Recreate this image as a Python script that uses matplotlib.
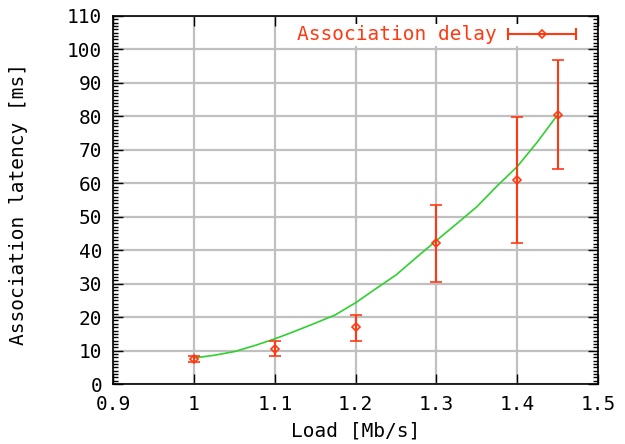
import numpy as np
import matplotlib
matplotlib.use('Agg')
import matplotlib.pyplot as plt
from matplotlib.lines import Line2D
from matplotlib.legend_handler import HandlerBase
from matplotlib.ticker import MultipleLocator

# measured association delay
load = [1.0, 1.1, 1.2, 1.3, 1.4, 1.45]
delay = [7.5, 10.5, 17.0, 42.3, 61.1, 80.4]
delay_lo = [6.5, 8.5, 13.0, 30.6, 42.1, 64.4]
delay_hi = [8.5, 13.0, 20.5, 53.6, 79.9, 96.9]

# fitted curve
fit_x = [1.0, 1.025, 1.05, 1.075, 1.1, 1.125, 1.15, 1.175, 1.2, 1.225,
         1.25, 1.275, 1.3, 1.325, 1.35, 1.375, 1.4, 1.425, 1.45]
fit_y = [7.8, 8.6, 9.7, 11.5, 13.5, 15.8, 18.2, 20.7, 24.3, 28.5,
         32.6, 37.8, 42.9, 47.9, 53.0, 59.2, 65.0, 72.4, 80.5]

xticks = [0.9, 1.0, 1.1, 1.2, 1.3, 1.4, 1.5]
xtick_labels = ['0.9', '1', '1.1', '1.2', '1.3', '1.4', '1.5']
yticks = list(range(0, 111, 10))

RED = '#ff3a12'
GREEN = '#2fd02f'
GRID = '#c0c0c0'

plt.rcParams['font.family'] = ['DejaVu Sans Mono']
plt.rcParams['font.size'] = 14


class HErrHandler(HandlerBase):
    # gnuplot style key sample: horizontal bar with end caps and a point
    def create_artists(self, legend, orig_handle, xdescent, ydescent,
                       width, height, fontsize, trans):
        x0 = -xdescent
        x1 = -xdescent + width
        y = -ydescent + height / 2
        bar = Line2D([x0, x1], [y, y], color=RED, lw=1.5, transform=trans)
        caps = Line2D([x0, x1], [y, y], ls='none', marker='|', ms=8,
                      mew=1.5, color=RED, transform=trans)
        pt = Line2D([(x0 + x1) / 2], [y], ls='none', marker='D', ms=4,
                    mfc='none', mec=RED, mew=1.2, transform=trans)
        return [bar, caps, pt]


fig = plt.figure(figsize=(6.25, 4.44), dpi=100)
ax = fig.add_axes([0.181, 0.135, 0.776, 0.829])

ax.plot(fit_x, fit_y, color=GREEN, lw=1.2, zorder=3)

yerr = [np.array(delay) - np.array(delay_lo), np.array(delay_hi) - np.array(delay)]
eb = ax.errorbar(load, delay, yerr=yerr, fmt='D', ms=4, mfc='none', mec=RED,
                 mew=1.2, ecolor=RED, elinewidth=1.5, capsize=4, capthick=1.5,
                 color=RED, zorder=4)

ax.set_xlim(0.9, 1.5)
ax.set_ylim(0, 110)
ax.set_xticks(xticks)
ax.set_xticklabels(xtick_labels)
ax.set_yticks(yticks)
ax.yaxis.set_minor_locator(MultipleLocator(1))

ax.grid(True, which='major', color=GRID, lw=1.6, zorder=0)
ax.set_axisbelow(True)
ax.tick_params(which='major', direction='in', length=7, width=1,
               top=True, right=True, pad=8)
ax.tick_params(which='minor', direction='in', length=3.5, width=1,
               left=True, right=True)
for s in ax.spines.values():
    s.set_linewidth(1.2)

ax.set_xlabel('Load [Mb/s]', labelpad=5)
ax.set_ylabel('Association latency [ms]')
ax.yaxis.set_label_coords(-0.175, 0.49)

leg = ax.legend([eb], ['Association delay'], loc='upper right',
                bbox_to_anchor=(0.967, 0.99), handler_map={type(eb): HErrHandler()},
                markerfirst=False, handlelength=3.5, handletextpad=0.6,
                frameon=True, fancybox=False, borderaxespad=0.2,
                borderpad=0.1, labelcolor=RED)
leg.get_frame().set_edgecolor('none')
leg.get_frame().set_facecolor('white')
leg.get_frame().set_alpha(1.0)

fig.savefig('out.png', dpi=100)
